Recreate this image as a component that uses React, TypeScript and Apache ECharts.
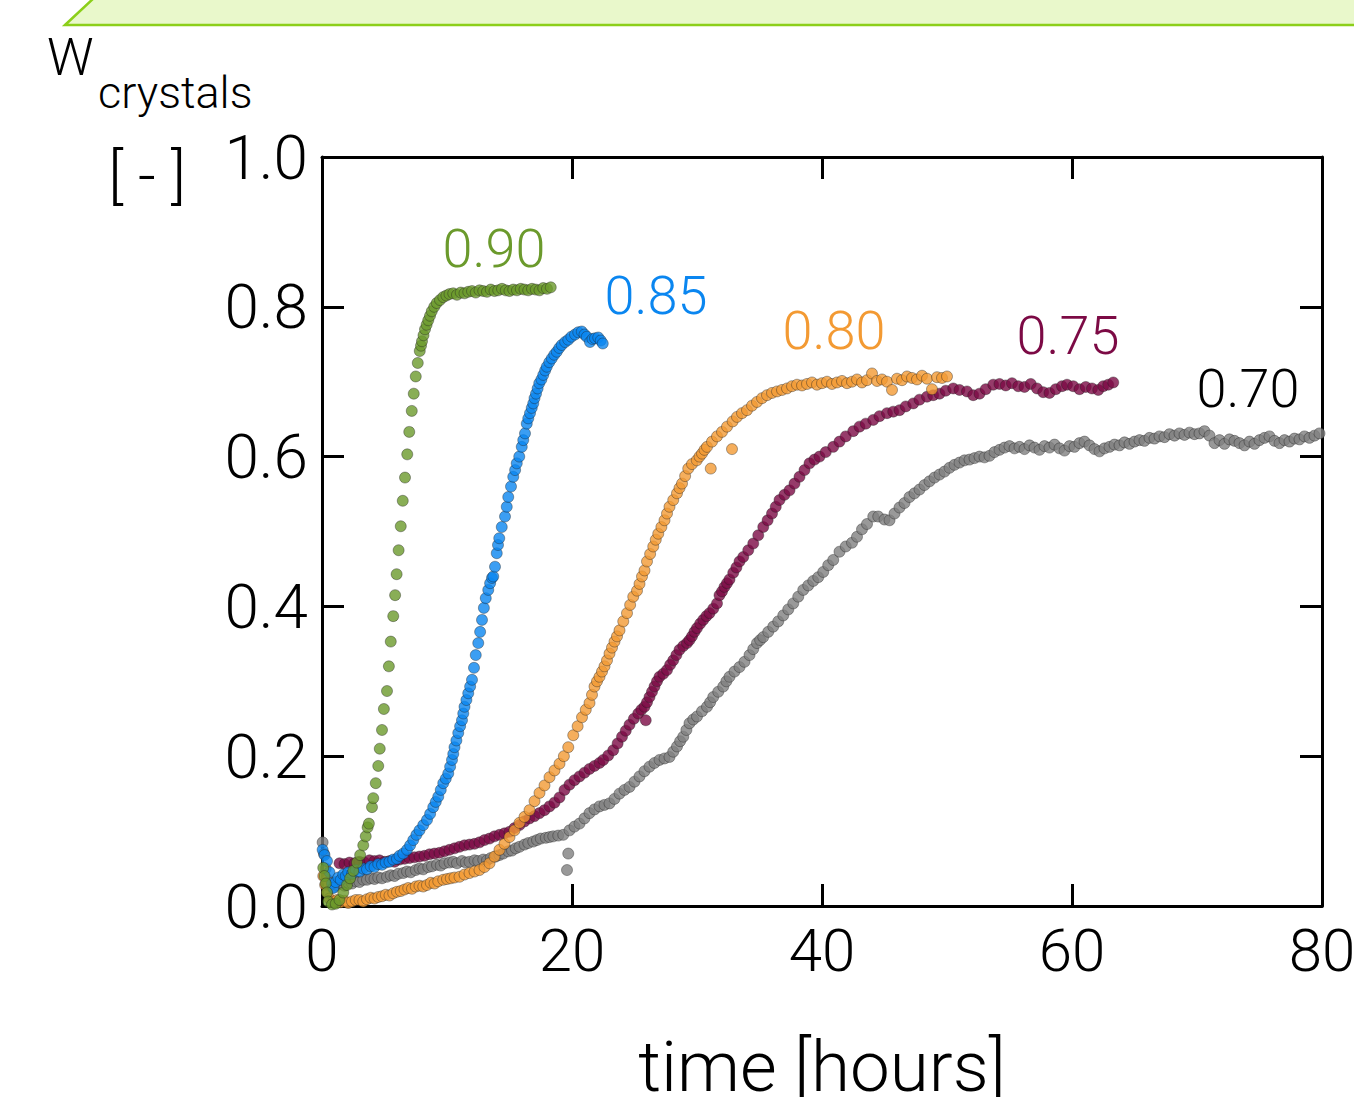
import React, { useEffect, useRef } from "react";
import * as echarts from "echarts";

const xTicks = [0, 20, 40, 60, 80];
const yTicks = [0.0, 0.2, 0.4, 0.6, 0.8, 1.0];
const seriesNames = ["0.70", "0.75", "0.80", "0.85", "0.90"];
const seriesColors = ["#7f7f7f", "#7c0a45", "#f39a33", "#0a86f0", "#6b9a2c"];

const g70: number[][] = [[0.05,0.085],[0.15,0.07],[0.3,0.05],[0.45,0.035],[0.6,0.027],[0.9,0.025],[1.2,0.028],[1.5,0.03],[1.8,0.027],[2.1,0.031],[2.4,0.03],[2.7,0.033],[3.0,0.032],[3.3,0.035],[3.6,0.035],[3.9,0.037],[4.2,0.036],[4.5,0.038],[4.8,0.037],[5.2,0.039],[5.5,0.041],[5.8,0.04],[6.1,0.043],[6.5,0.044],[6.8,0.046],[7.1,0.045],[7.5,0.048],[7.8,0.05],[8.1,0.049],[8.5,0.052],[8.8,0.053],[9.2,0.055],[9.5,0.054],[9.8,0.057],[10.2,0.058],[10.5,0.059],[10.8,0.057],[11.2,0.06],[11.5,0.058],[11.8,0.059],[12.2,0.061],[12.5,0.06],[12.9,0.062],[13.2,0.061],[13.5,0.064],[13.9,0.066],[14.2,0.068],[14.5,0.07],[14.9,0.073],[15.2,0.074],[15.5,0.077],[15.8,0.079],[16.2,0.082],[16.5,0.084],[16.9,0.086],[17.2,0.088],[17.5,0.09],[17.9,0.091],[18.2,0.092],[18.5,0.093],[18.9,0.094],[19.3,0.095],[19.6,0.048],[19.7,0.07],[19.8,0.101],[20.2,0.106],[20.6,0.11],[21.0,0.117],[21.4,0.124],[21.8,0.129],[22.2,0.133],[22.6,0.135],[23.0,0.137],[23.4,0.143],[23.8,0.15],[24.2,0.155],[24.6,0.159],[25.0,0.166],[25.4,0.173],[25.8,0.18],[26.2,0.186],[26.6,0.191],[27.0,0.195],[27.4,0.197],[27.8,0.199],[28.1,0.206],[28.4,0.213],[28.65,0.22],[28.9,0.226],[29.15,0.235],[29.4,0.244],[29.7,0.249],[30.0,0.253],[30.4,0.26],[30.8,0.266],[31.05,0.272],[31.3,0.279],[31.7,0.286],[32.1,0.293],[32.35,0.3],[32.6,0.306],[33.0,0.313],[33.4,0.319],[33.8,0.326],[34.2,0.335],[34.5,0.343],[34.8,0.351],[35.05,0.355],[35.3,0.359],[35.7,0.366],[36.1,0.373],[36.5,0.38],[36.9,0.388],[37.3,0.396],[37.7,0.404],[38.1,0.413],[38.5,0.422],[38.9,0.428],[39.3,0.434],[39.7,0.439],[40.1,0.446],[40.5,0.455],[40.9,0.462],[41.4,0.473],[41.9,0.48],[42.4,0.485],[42.8,0.493],[43.2,0.503],[43.6,0.51],[44.1,0.52],[44.5,0.52],[45.0,0.516],[45.4,0.515],[45.8,0.524],[46.2,0.532],[46.6,0.538],[47.0,0.546],[47.4,0.551],[47.8,0.556],[48.2,0.562],[48.6,0.567],[49.0,0.572],[49.4,0.576],[49.8,0.58],[50.2,0.585],[50.6,0.589],[51.0,0.592],[51.4,0.595],[51.8,0.596],[52.2,0.598],[52.6,0.6],[53.0,0.599],[53.4,0.601],[53.8,0.606],[54.2,0.609],[54.6,0.612],[55.0,0.614],[55.4,0.611],[55.8,0.613],[56.2,0.61],[56.6,0.615],[57.0,0.612],[57.4,0.609],[57.8,0.614],[58.2,0.612],[58.6,0.616],[59.0,0.611],[59.4,0.608],[59.8,0.614],[60.2,0.613],[60.6,0.618],[61.0,0.62],[61.4,0.615],[61.8,0.61],[62.2,0.607],[62.6,0.611],[63.0,0.613],[63.4,0.616],[63.8,0.615],[64.2,0.619],[64.6,0.617],[65.0,0.62],[65.4,0.622],[65.8,0.621],[66.2,0.625],[66.6,0.624],[67.0,0.627],[67.4,0.626],[67.8,0.63],[68.2,0.628],[68.6,0.631],[69.0,0.629],[69.4,0.632],[69.8,0.63],[70.2,0.631],[70.6,0.634],[71.0,0.628],[71.4,0.618],[71.8,0.622],[72.2,0.617],[72.6,0.623],[73.0,0.621],[73.4,0.618],[73.8,0.615],[74.2,0.62],[74.6,0.617],[75.0,0.622],[75.4,0.625],[75.8,0.627],[76.2,0.621],[76.6,0.618],[77.0,0.622],[77.4,0.62],[77.8,0.624],[78.2,0.623],[78.6,0.627],[79.0,0.625],[79.4,0.628],[79.8,0.631]];

const m75: number[][] = [[1.4,0.057],[1.8,0.056],[2.2,0.058],[2.6,0.057],[3.0,0.059],[3.4,0.058],[3.8,0.061],[4.2,0.06],[4.6,0.061],[5.0,0.059],[5.4,0.06],[5.8,0.059],[6.2,0.062],[6.6,0.063],[7.0,0.064],[7.4,0.065],[7.8,0.066],[8.2,0.067],[8.6,0.069],[9.0,0.07],[9.4,0.071],[9.8,0.073],[10.2,0.075],[10.6,0.077],[11.0,0.079],[11.4,0.081],[11.8,0.082],[12.2,0.083],[12.6,0.085],[13.0,0.088],[13.4,0.09],[13.8,0.093],[14.2,0.095],[14.6,0.097],[15.0,0.099],[15.4,0.104],[15.8,0.108],[16.2,0.113],[16.6,0.117],[17.0,0.12],[17.4,0.124],[17.8,0.128],[18.2,0.133],[18.6,0.138],[19.0,0.145],[19.4,0.155],[19.8,0.162],[20.2,0.168],[20.6,0.173],[21.0,0.178],[21.4,0.183],[21.8,0.187],[22.2,0.191],[22.5,0.195],[22.9,0.201],[23.3,0.208],[23.65,0.217],[24.0,0.226],[24.3,0.234],[24.6,0.242],[24.95,0.25],[25.3,0.257],[25.55,0.262],[25.8,0.266],[25.9,0.248],[26.0,0.272],[26.2,0.279],[26.4,0.286],[26.6,0.293],[26.8,0.3],[27.0,0.306],[27.3,0.31],[27.6,0.315],[27.85,0.322],[28.1,0.328],[28.35,0.335],[28.6,0.342],[28.9,0.347],[29.2,0.351],[29.4,0.355],[29.6,0.36],[29.8,0.366],[30.0,0.371],[30.25,0.377],[30.5,0.382],[30.75,0.387],[31.0,0.391],[31.3,0.397],[31.6,0.404],[31.8,0.415],[32.0,0.42],[32.2,0.426],[32.4,0.431],[32.6,0.436],[32.9,0.445],[33.15,0.452],[33.4,0.46],[33.7,0.466],[34.1,0.475],[34.5,0.484],[34.9,0.495],[35.3,0.506],[35.65,0.515],[36.0,0.524],[36.3,0.533],[36.6,0.542],[37.0,0.549],[37.4,0.555],[37.8,0.564],[38.2,0.573],[38.6,0.582],[39.0,0.591],[39.4,0.596],[39.8,0.6],[40.3,0.606],[40.9,0.613],[41.4,0.62],[41.9,0.627],[42.5,0.634],[43.0,0.64],[43.5,0.644],[44.1,0.649],[44.6,0.654],[45.2,0.658],[45.7,0.66],[46.2,0.662],[46.7,0.667],[47.3,0.671],[47.8,0.676],[48.4,0.68],[48.9,0.682],[49.4,0.684],[49.9,0.688],[50.5,0.691],[51.0,0.689],[51.6,0.687],[52.1,0.682],[52.6,0.684],[53.1,0.69],[53.7,0.696],[54.2,0.697],[54.7,0.695],[55.2,0.698],[55.7,0.694],[56.2,0.693],[56.7,0.697],[57.2,0.691],[57.7,0.686],[58.2,0.685],[58.7,0.69],[59.2,0.694],[59.6,0.696],[60.1,0.694],[60.6,0.69],[61.1,0.693],[61.6,0.691],[62.1,0.689],[62.5,0.694],[62.9,0.696],[63.3,0.699]];

const o80: number[][] = [[0.1,0.04],[0.25,0.028],[0.4,0.018],[0.6,0.01],[0.9,0.006],[1.2,0.008],[1.5,0.005],[1.8,0.007],[2.1,0.004],[2.4,0.006],[2.7,0.008],[3.0,0.008],[3.3,0.006],[3.6,0.009],[3.9,0.011],[4.2,0.01],[4.5,0.012],[4.8,0.013],[5.1,0.015],[5.4,0.014],[5.7,0.017],[6.0,0.019],[6.3,0.02],[6.6,0.022],[6.9,0.024],[7.2,0.023],[7.5,0.026],[7.8,0.027],[8.1,0.026],[8.4,0.028],[8.7,0.031],[9.0,0.03],[9.3,0.033],[9.7,0.035],[10.0,0.036],[10.3,0.037],[10.6,0.038],[11.0,0.039],[11.4,0.042],[11.8,0.044],[12.2,0.046],[12.6,0.048],[13.0,0.052],[13.4,0.057],[13.8,0.066],[14.2,0.075],[14.6,0.083],[15.0,0.092],[15.4,0.101],[15.8,0.111],[16.2,0.119],[16.6,0.128],[17.0,0.14],[17.4,0.151],[17.8,0.161],[18.2,0.172],[18.6,0.181],[19.0,0.19],[19.35,0.2],[19.7,0.212],[20.1,0.228],[20.45,0.24],[20.8,0.252],[21.1,0.262],[21.4,0.271],[21.6,0.282],[21.8,0.293],[22.0,0.3],[22.2,0.306],[22.4,0.313],[22.6,0.32],[22.8,0.328],[23.0,0.337],[23.2,0.345],[23.4,0.353],[23.6,0.36],[23.8,0.368],[24.1,0.38],[24.4,0.391],[24.65,0.402],[24.9,0.413],[25.2,0.421],[25.4,0.43],[25.6,0.44],[25.8,0.448],[26.0,0.46],[26.25,0.47],[26.5,0.48],[26.7,0.489],[26.9,0.497],[27.15,0.506],[27.4,0.515],[27.6,0.524],[27.8,0.533],[28.1,0.542],[28.4,0.551],[28.6,0.558],[28.8,0.564],[29.05,0.574],[29.3,0.584],[29.6,0.59],[29.98,0.595],[30.2,0.6],[30.4,0.604],[30.6,0.609],[30.8,0.613],[31.1,0.584],[31.2,0.62],[31.6,0.627],[32.0,0.633],[32.4,0.64],[32.8,0.61],[32.85,0.647],[33.2,0.653],[33.6,0.658],[34.0,0.662],[34.4,0.668],[34.8,0.673],[35.2,0.678],[35.6,0.682],[36.0,0.685],[36.4,0.687],[36.8,0.689],[37.2,0.691],[37.6,0.694],[38.0,0.696],[38.4,0.695],[38.8,0.697],[39.2,0.699],[39.6,0.696],[40.0,0.698],[40.4,0.7],[40.8,0.697],[41.2,0.699],[41.6,0.701],[42.0,0.698],[42.4,0.7],[42.8,0.703],[43.2,0.699],[43.6,0.702],[44.0,0.711],[44.4,0.701],[44.8,0.703],[45.2,0.7],[45.6,0.689],[46.0,0.704],[46.4,0.702],[46.8,0.707],[47.2,0.705],[47.6,0.703],[48.0,0.708],[48.4,0.704],[48.8,0.69],[49.2,0.706],[49.6,0.705],[50.0,0.707]];

const b85: number[][] = [[0.05,0.075],[0.2,0.068],[0.4,0.06],[0.6,0.045],[0.8,0.03],[0.9,0.024],[1.1,0.032],[1.3,0.038],[1.5,0.035],[1.7,0.042],[1.9,0.04],[2.1,0.045],[2.4,0.043],[2.7,0.048],[3.0,0.046],[3.3,0.05],[3.6,0.049],[3.9,0.053],[4.2,0.052],[4.5,0.056],[4.8,0.055],[5.1,0.058],[5.4,0.059],[5.7,0.062],[6.0,0.063],[6.2,0.067],[6.5,0.07],[6.8,0.075],[7.05,0.081],[7.3,0.088],[7.55,0.095],[7.8,0.101],[8.1,0.108],[8.4,0.115],[8.65,0.123],[8.9,0.132],[9.1,0.139],[9.3,0.146],[9.5,0.155],[9.7,0.164],[9.9,0.17],[10.1,0.177],[10.25,0.186],[10.4,0.195],[10.5,0.203],[10.6,0.212],[10.75,0.221],[10.9,0.231],[11.05,0.24],[11.2,0.248],[11.3,0.257],[11.4,0.266],[11.55,0.275],[11.7,0.284],[11.85,0.293],[12.0,0.302],[12.16,0.318],[12.3,0.335],[12.5,0.351],[12.65,0.366],[12.8,0.382],[12.95,0.398],[13.1,0.411],[13.3,0.422],[13.45,0.431],[13.6,0.438],[13.7,0.44],[13.84,0.453],[13.98,0.471],[14.08,0.482],[14.18,0.491],[14.38,0.506],[14.64,0.52],[14.78,0.533],[14.9,0.546],[15.12,0.56],[15.3,0.573],[15.45,0.582],[15.58,0.591],[15.78,0.6],[15.98,0.613],[16.1,0.622],[16.24,0.631],[16.38,0.644],[16.5,0.651],[16.64,0.658],[16.78,0.665],[16.9,0.671],[17.0,0.678],[17.12,0.684],[17.25,0.691],[17.38,0.698],[17.55,0.703],[17.7,0.709],[17.85,0.715],[17.98,0.72],[18.18,0.726],[18.38,0.731],[18.58,0.736],[18.78,0.74],[18.98,0.745],[19.18,0.749],[19.45,0.753],[19.7,0.756],[19.95,0.76],[20.24,0.763],[20.5,0.766],[20.78,0.767],[21.0,0.763],[21.18,0.76],[21.44,0.753],[21.64,0.757],[21.84,0.758],[22.1,0.759],[22.3,0.755],[22.46,0.751]];

const g90: number[][] = [[0.1,0.051],[0.2,0.04],[0.3,0.03],[0.4,0.018],[0.5,0.006],[0.8,0.002],[1.1,0.003],[1.4,0.008],[1.7,0.018],[2.0,0.028],[2.25,0.037],[2.5,0.047],[2.8,0.058],[3.05,0.068],[3.3,0.081],[3.5,0.093],[3.65,0.105],[3.75,0.11],[4.0,0.132],[4.1,0.144],[4.3,0.164],[4.5,0.187],[4.62,0.21],[4.8,0.235],[4.95,0.263],[5.2,0.287],[5.35,0.32],[5.5,0.353],[5.7,0.387],[5.85,0.415],[5.97,0.443],[6.13,0.475],[6.3,0.507],[6.46,0.541],[6.64,0.572],[6.82,0.603],[6.98,0.633],[7.18,0.661],[7.34,0.684],[7.5,0.707],[7.66,0.725],[7.82,0.741],[7.92,0.748],[8.0,0.754],[8.12,0.762],[8.24,0.77],[8.37,0.776],[8.5,0.782],[8.64,0.788],[8.78,0.794],[8.98,0.8],[9.18,0.805],[9.44,0.809],[9.7,0.813],[9.95,0.815],[10.2,0.817],[10.5,0.818],[10.8,0.816],[11.1,0.819],[11.4,0.818],[11.7,0.82],[12.0,0.821],[12.3,0.819],[12.6,0.822],[12.9,0.821],[13.2,0.82],[13.5,0.823],[13.8,0.821],[14.1,0.822],[14.4,0.824],[14.7,0.822],[15.0,0.821],[15.3,0.823],[15.6,0.822],[15.9,0.824],[16.2,0.823],[16.5,0.822],[16.8,0.824],[17.1,0.823],[17.4,0.822],[17.7,0.825],[18.0,0.824],[18.3,0.826]];

const seriesData = [g70, m75, o80, b85, g90];

const FONT = "Roboto, 'Noto Sans', sans-serif";

export default function App() {
  const ref = useRef<HTMLDivElement>(null);
  useEffect(() => {
    if (!ref.current) return;
    const chart = echarts.init(ref.current, null, { renderer: "svg" });
    const axisLine = { show: true, onZero: false, lineStyle: { color: "#000", width: 3 } };
    const tick = { show: true, inside: true, length: 22, lineStyle: { color: "#000", width: 3 } };
    chart.setOption({
      animation: false,
      backgroundColor: "#fff",
      grid: { left: 322, top: 157, width: 1000, height: 749, containLabel: false, outerBoundsMode: "none" },
      xAxis: [
        {
          type: "value", min: 0, max: 80, interval: 20, position: "bottom",
          axisLine, axisTick: tick, splitLine: { show: false },
          axisLabel: { show: true, margin: 14, color: "#000", fontFamily: FONT, fontWeight: 300, fontSize: 60,
            formatter: (v: number) => String(xTicks.includes(v) ? v : "") },
          name: "time [hours]", nameLocation: "middle", nameGap: 130,
          nameTextStyle: { color: "#000", fontFamily: FONT, fontWeight: 300, fontSize: 71, lineHeight: 60 },
        },
        {
          type: "value", min: 0, max: 80, interval: 20, position: "top",
          axisLine, axisTick: tick, axisLabel: { show: false }, splitLine: { show: false },
        },
      ],
      yAxis: [
        {
          type: "value", min: 0, max: 1, interval: 0.2, position: "left",
          axisLine, axisTick: tick, splitLine: { show: false },
          axisLabel: { show: true, margin: 14, color: "#000", fontFamily: FONT, fontWeight: 300, fontSize: 62,
            formatter: (v: number) => yTicks.some((t) => Math.abs(t - v) < 1e-6) ? v.toFixed(1) : "" },
        },
        {
          type: "value", min: 0, max: 1, interval: 0.2, position: "right",
          axisLine, axisTick: tick, axisLabel: { show: false }, splitLine: { show: false },
        },
      ],
      series: seriesData.map((d, i) => ({
        type: "scatter",
        name: seriesNames[i],
        data: d,
        symbol: "circle",
        symbolSize: 11,
        itemStyle: { color: seriesColors[i], borderColor: "rgba(30,30,30,0.6)", borderWidth: 0.8 },
        z: 2 + i,
      })),
      graphic: [
        {
          type: "polygon", z: 100,
          shape: { points: [[65, 25], [95, -3], [1360, -3], [1360, 25]] },
          style: { fill: "#e9f8cb", stroke: "#8ccf1a", lineWidth: 2.5 },
        },
        { type: "text", x: 47, y: 57, style: { text: "W", fontFamily: FONT, fontWeight: 300, fontSize: 52, fill: "#000", verticalAlign: "middle" } },
        { type: "text", x: 98, y: 92, style: { text: "crystals", fontFamily: FONT, fontWeight: 300, fontSize: 45, fill: "#000", verticalAlign: "middle" } },
        { type: "text", x: 147, y: 175, style: { text: "[ - ]", fontFamily: FONT, fontWeight: 300, fontSize: 62, fill: "#000", align: "center", verticalAlign: "middle" } },
        { type: "text", x: 494, y: 248, style: { text: "0.90", fontFamily: FONT, fontWeight: 300, fontSize: 54, fill: seriesColors[4], align: "center", verticalAlign: "middle" } },
        { type: "text", x: 656, y: 295, style: { text: "0.85", fontFamily: FONT, fontWeight: 300, fontSize: 54, fill: seriesColors[3], align: "center", verticalAlign: "middle" } },
        { type: "text", x: 834, y: 330, style: { text: "0.80", fontFamily: FONT, fontWeight: 300, fontSize: 54, fill: seriesColors[2], align: "center", verticalAlign: "middle" } },
        { type: "text", x: 1068, y: 335, style: { text: "0.75", fontFamily: FONT, fontWeight: 300, fontSize: 54, fill: seriesColors[1], align: "center", verticalAlign: "middle" } },
        { type: "text", x: 1248, y: 388, style: { text: "0.70", fontFamily: FONT, fontWeight: 300, fontSize: 54, fill: "#000", align: "center", verticalAlign: "middle" } },
      ],
    });
    return () => chart.dispose();
  }, []);
  return <div ref={ref} style={{ position: "fixed", left: 0, top: 0, width: 1354, height: 1097 }} />;
}
